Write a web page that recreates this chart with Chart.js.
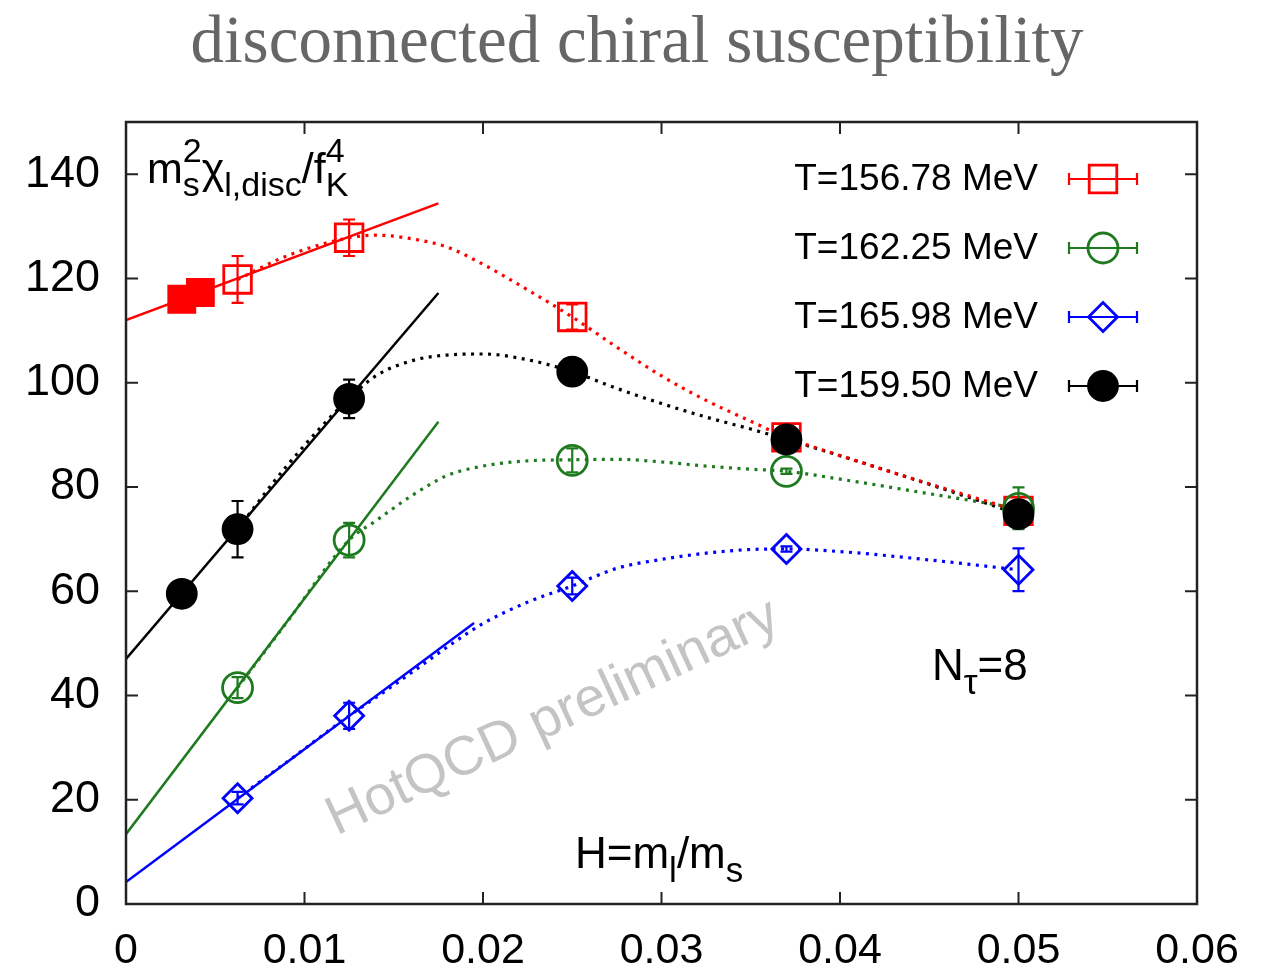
<!DOCTYPE html>
<html>
<head>
<meta charset="utf-8">
<title>disconnected chiral susceptibility</title>
<script src="https://cdn.jsdelivr.net/npm/chart.js@4.4.1/dist/chart.umd.min.js"></script>
<style>
  html, body { margin: 0; padding: 0; background: #fff; }
  canvas { display: block; }
</style>
</head>
<body>
<canvas id="chart" width="1276" height="974"></canvas>
<script>
const SANS = "'Liberation Sans', Arial, Helvetica, sans-serif";
const SERIF = "'Liberation Serif', 'Times New Roman', serif";

// H = m_l/m_s of the ensembles
const hValues = [0.00625, 0.0125, 0.025, 0.037, 0.05];
const xTickValues = [0, 0.01, 0.02, 0.03, 0.04, 0.05, 0.06];
const yTickValues = [0, 20, 40, 60, 80, 100, 120, 140];

const labels = ['T=156.78 MeV', 'T=162.25 MeV', 'T=165.98 MeV', 'T=159.50 MeV'];
const colors = ['#ff0000', '#1e7a1e', '#0000ff', '#000000'];

// m_s^2 chi_l,disc / f_K^4 with errors
const chiT156 = [119.8, 127.8, 112.6, 89.5, 75.4];
const errT156 = [4.5, 3.5, 2.4, 1.0, 2.0];
const chiT162 = [41.5, 69.8, 85.1, 83.0, 75.9];
const errT162 = [2.0, 3.3, 2.3, 0.5, 4.0];
const chiT166 = [20.3, 36.1, 61.0, 68.1, 64.1];
const errT166 = [1.2, 2.5, 1.6, 0.5, 4.1];
// T=159.50 also has the lighter H=1/320 ensemble
const hT159 = [0.003125, 0.00625, 0.0125, 0.025, 0.037, 0.05];
const chiT159 = [59.5, 71.9, 96.9, 102.1, 89.1, 74.8];
const errT159 = [1.0, 5.4, 3.7, 1.0, 1.0, 2.0];

// filled squares at the two lightest masses for T=156.78
const hExtra = [0.003125, 0.004167];
const chiExtra = [116.0, 117.3];

// linear fits: [H, value] at both ends
const fitT156 = [[0, 112.0], [0.0175, 134.4]];
const fitT162 = [[0, 13.4], [0.0175, 92.5]];
const fitT166 = [[0, 4.2], [0.0195, 53.9]];
const fitT159 = [[0, 47.0], [0.0175, 117.2]];

// dotted spline curves through the data
const curveH    = [0.00625, 0.009, 0.0125, 0.014, 0.016, 0.018, 0.02, 0.0225, 0.025, 0.0275, 0.03, 0.0325, 0.035, 0.037, 0.04, 0.045, 0.05];
const curveT156 = [119.8, 124.3, 127.8, 128.3, 127.6, 126.0, 122.7, 117.8, 112.6, 106.8, 101.3, 96.6, 92.6, 89.5, 86.0, 80.6, 75.4];
const curveT162 = [41.5, 54.0, 69.8, 73.5, 78.3, 82.2, 84.0, 85.0, 85.2, 85.3, 84.8, 84.0, 83.4, 83.0, 81.5, 78.7, 75.9];
const curveT166 = [20.3, 27.2, 36.1, 39.6, 44.4, 49.3, 53.8, 57.9, 61.0, 64.4, 66.1, 67.3, 68.0, 68.1, 67.6, 66.0, 64.1];
const curveT159 = [71.9, 84.0, 97.0, 101.3, 104.2, 105.3, 105.5, 104.4, 102.1, 98.9, 96.0, 93.4, 91.1, 89.1, 86.0, 80.5, 74.8];

const toPts = (xs, ys) => xs.map((x, i) => ({ x: x, y: ys[i] }));

function fitLine(pts, color) {
  return {
    data: pts.map(p => ({ x: p[0], y: p[1] })),
    showLine: true, borderColor: color, borderWidth: 2.5,
    pointRadius: 0, order: 30
  };
}

function curve(ys, color) {
  return {
    data: toPts(curveH, ys),
    showLine: true, borderColor: color, borderWidth: 3.2,
    borderDash: [3, 5.5], cubicInterpolationMode: 'monotone',
    pointRadius: 0, order: 20
  };
}

function markers(xs, ys, errs, color, style, radius, filled, order) {
  return {
    data: toPts(xs, ys),
    errors: errs,
    showLine: false,
    pointStyle: style, pointRadius: radius,
    pointBorderColor: color, pointBorderWidth: 2.8,
    pointBackgroundColor: filled ? color : 'rgba(0,0,0,0)',
    order: order
  };
}

const datasets = [
  fitLine(fitT156, colors[0]),
  fitLine(fitT162, colors[1]),
  fitLine(fitT166, colors[2]),
  fitLine(fitT159, colors[3]),
  curve(curveT156, colors[0]),
  curve(curveT162, colors[1]),
  curve(curveT166, colors[2]),
  curve(curveT159, colors[3]),
  markers(hExtra, chiExtra, null, colors[0], 'rect', 18.4, true, 6),
  markers(hValues, chiT156, errT156, colors[0], 'rect', 19.5, false, 5),
  markers(hValues, chiT162, errT162, colors[1], 'circle', 15, false, 4),
  markers(hValues, chiT166, errT166, colors[2], 'rectRot', 14.5, false, 3),
  markers(hT159, chiT159, errT159, colors[3], 'circle', 14.5, true, 2)
];

// text with sub/superscripts; parts are [text, 'n'|'sup'|'sub', stackOnPrevious]
function drawRich(ctx, x, y, parts, big, small) {
  let cx = x, startX = x;
  parts.forEach(([t, k, stack]) => {
    ctx.font = (k === 'n' ? big : small) + 'px ' + SANS;
    const dy = k === 'sup' ? -big * 0.48 : k === 'sub' ? big * 0.31 : 0;
    const sx = stack ? startX : cx;
    ctx.fillText(t, sx, y + dy);
    const w = ctx.measureText(t).width;
    if (stack) {
      cx = Math.max(cx, sx + w);
    } else {
      startX = sx;
      cx = sx + w;
    }
  });
}

function drawMarker(ctx, style, x, y, r, color, filled) {
  ctx.beginPath();
  if (style === 'rect') {
    const s = r * Math.SQRT1_2;
    ctx.rect(x - s, y - s, 2 * s, 2 * s);
  } else if (style === 'rectRot') {
    ctx.moveTo(x - r, y); ctx.lineTo(x, y - r); ctx.lineTo(x + r, y); ctx.lineTo(x, y + r);
    ctx.closePath();
  } else {
    ctx.arc(x, y, r, 0, Math.PI * 2);
  }
  if (filled) { ctx.fillStyle = color; ctx.fill(); }
  ctx.strokeStyle = color; ctx.lineWidth = 2.8; ctx.stroke();
}

const errorBars = {
  id: 'errorBars',
  afterDatasetDraw(chart, args) {
    const ds = chart.data.datasets[args.index];
    if (!ds.errors) return;
    const ctx = chart.ctx, ys = chart.scales.y;
    ctx.save();
    ctx.strokeStyle = ds.pointBorderColor;
    ctx.lineWidth = 2.2;
    args.meta.data.forEach((el, i) => {
      const v = ds.data[i].y, e = ds.errors[i];
      const top = ys.getPixelForValue(v + e), bot = ys.getPixelForValue(v - e);
      ctx.beginPath();
      ctx.moveTo(el.x, top); ctx.lineTo(el.x, bot);
      ctx.moveTo(el.x - 6, top); ctx.lineTo(el.x + 6, top);
      ctx.moveTo(el.x - 6, bot); ctx.lineTo(el.x + 6, bot);
      ctx.stroke();
    });
    ctx.restore();
  }
};

const decorations = {
  id: 'decorations',
  beforeDatasetsDraw(chart) {
    const ctx = chart.ctx, a = chart.chartArea;
    // watermark
    ctx.save();
    ctx.translate(a.left + 427, a.top + 596);
    ctx.rotate(-25 * Math.PI / 180);
    ctx.font = '55px ' + SANS;
    ctx.fillStyle = '#c4c4c4';
    ctx.textAlign = 'center';
    ctx.textBaseline = 'middle';
    ctx.fillText('HotQCD preliminary', 0, 0);
    ctx.restore();
  },
  afterDraw(chart) {
    const ctx = chart.ctx, a = chart.chartArea;
    const xs = chart.scales.x, ys = chart.scales.y;
    ctx.save();

    // frame with inward ticks
    ctx.strokeStyle = '#222';
    ctx.lineWidth = 2.5;
    ctx.strokeRect(a.left, a.top, a.right - a.left, a.bottom - a.top);
    ctx.lineWidth = 2;
    ctx.beginPath();
    yTickValues.forEach(v => {
      const py = ys.getPixelForValue(v);
      ctx.moveTo(a.left, py); ctx.lineTo(a.left + 12, py);
      ctx.moveTo(a.right, py); ctx.lineTo(a.right - 12, py);
    });
    xTickValues.forEach(v => {
      const px = xs.getPixelForValue(v);
      ctx.moveTo(px, a.bottom); ctx.lineTo(px, a.bottom - 12);
      ctx.moveTo(px, a.top); ctx.lineTo(px, a.top + 12);
    });
    ctx.stroke();

    // page title
    ctx.font = '67px ' + SERIF;
    ctx.fillStyle = '#666666';
    ctx.textAlign = 'center';
    ctx.textBaseline = 'alphabetic';
    ctx.fillText('disconnected chiral susceptibility', 637, 62);

    // axis labels and annotation
    ctx.fillStyle = '#000';
    ctx.textAlign = 'left';
    drawRich(ctx, a.left + 21, a.top + 61, [
      ['m', 'n'], ['2', 'sup'], ['s', 'sub', true], ['\u03c7', 'n'], ['l,disc', 'sub'],
      ['/', 'n'], ['f', 'n'], ['4', 'sup'], ['K', 'sub', true]
    ], 43, 34);
    drawRich(ctx, a.left + 449, a.top + 746, [
      ['H=m', 'n'], ['l', 'sub'], ['/m', 'n'], ['s', 'sub']
    ], 44, 35);
    drawRich(ctx, a.left + 806, a.top + 558, [
      ['N', 'n'], ['\u03c4', 'sub'], ['=8', 'n']
    ], 44, 35);

    // legend
    const legendStyles = [['rect', 19.5, false], ['circle', 15, false], ['rectRot', 14.5, false], ['circle', 14.5, true]];
    labels.forEach((lab, i) => {
      const y = a.top + 57 + i * 69;
      const mx = a.right - 94;
      ctx.font = '37px ' + SANS;
      ctx.fillStyle = '#000';
      ctx.textAlign = 'right';
      ctx.textBaseline = 'middle';
      ctx.fillText(lab, a.right - 159, y + 1);
      ctx.strokeStyle = colors[i];
      ctx.lineWidth = 2.2;
      ctx.beginPath();
      ctx.moveTo(mx - 34, y); ctx.lineTo(mx + 34, y);
      ctx.moveTo(mx - 34, y - 6); ctx.lineTo(mx - 34, y + 6);
      ctx.moveTo(mx + 34, y - 6); ctx.lineTo(mx + 34, y + 6);
      ctx.stroke();
      const st = legendStyles[i];
      drawMarker(ctx, st[0], mx, y, st[1], colors[i], st[2]);
    });
    ctx.restore();
  }
};

new Chart(document.getElementById('chart'), {
  type: 'scatter',
  data: { datasets: datasets },
  options: {
    responsive: false,
    animation: false,
    devicePixelRatio: 1,
    layout: { padding: { top: 122, right: 79, left: 0, bottom: 0 } },
    plugins: { legend: { display: false }, tooltip: { enabled: false }, title: { display: false } },
    scales: {
      x: {
        type: 'linear', min: 0, max: 0.06,
        afterFit: s => { s.height = 70; },
        afterBuildTicks: s => { s.ticks = xTickValues.map(v => ({ value: v })); },
        grid: { display: false, drawTicks: false },
        border: { display: false },
        ticks: {
          font: { family: SANS, size: 43 }, color: '#000', padding: 21,
          maxRotation: 0, autoSkip: false,
          callback: v => v === 0 ? '0' : v.toFixed(2)
        }
      },
      y: {
        type: 'linear', min: 0, max: 150,
        afterFit: s => { s.width = 126; },
        afterBuildTicks: s => { s.ticks = yTickValues.map(v => ({ value: v })); },
        grid: { display: false, drawTicks: false },
        border: { display: false },
        ticks: {
          font: { family: SANS, size: 45 }, color: '#000', padding: 26,
          autoSkip: false,
          callback: v => String(v)
        }
      }
    }
  },
  plugins: [errorBars, decorations]
});
</script>
</body>
</html>
